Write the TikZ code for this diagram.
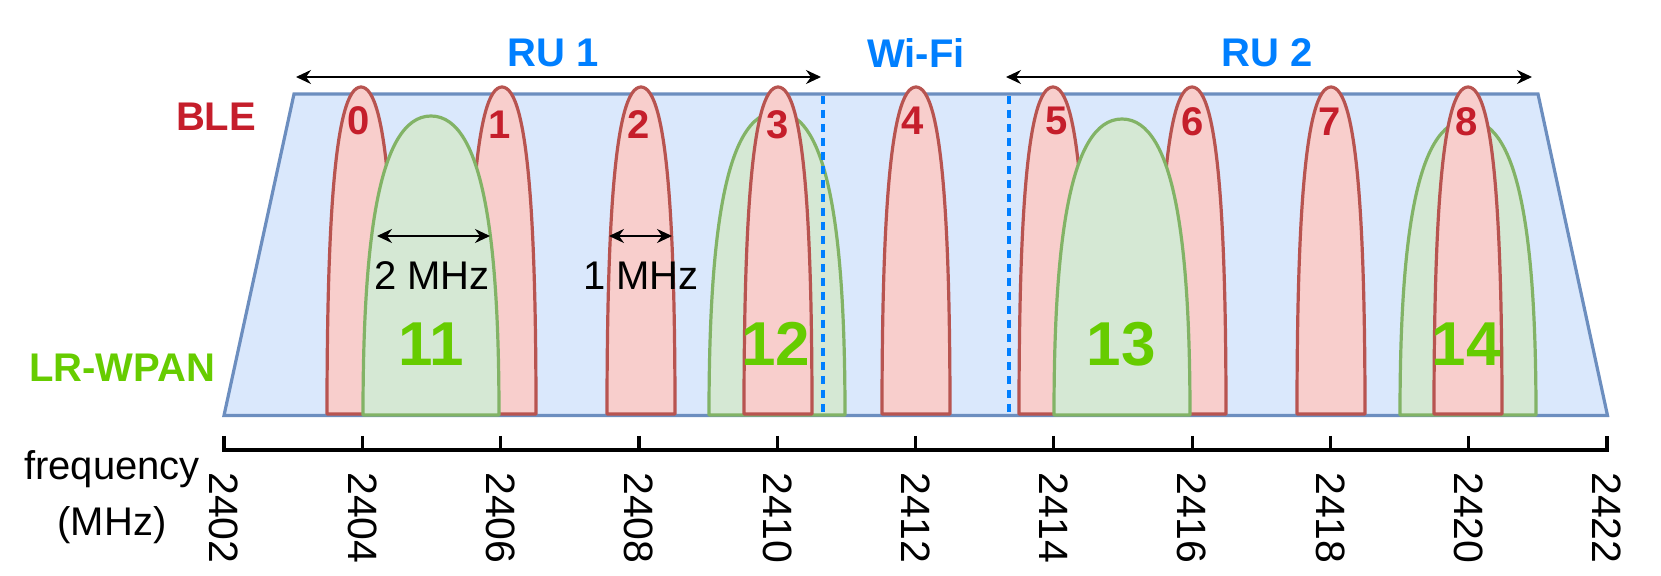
\documentclass[tikz,border=0pt]{standalone}
\usepackage{fontspec}
\setmainfont{Liberation Sans}
\usetikzlibrary{arrows.meta}
\definecolor{bleFill}{HTML}{F8CECC}
\definecolor{bleLine}{HTML}{B85450}
\definecolor{wpFill}{HTML}{D5E8D4}
\definecolor{wpLine}{HTML}{82B366}
\definecolor{bandFill}{HTML}{DAE8FC}
\definecolor{bandLine}{HTML}{6C8EBF}
\definecolor{ruBlue}{HTML}{007FFF}
\definecolor{bleText}{HTML}{C51E2B}
\definecolor{wpText}{HTML}{66CC00}
% cx, half width, top y, bottom y, style
\newcommand\archshape[5]{%
  \draw[#5] ({#1-#2},#4) .. controls ({#1-#2},{#4-0.55*(#4-#3)}) and ({#1-0.8*#2},#3) .. (#1,#3)
    .. controls ({#1+0.8*#2},#3) and ({#1+#2},{#4-0.55*(#4-#3)}) .. ({#1+#2},#4) -- cycle;}
\tikzset{
  ble/.style={fill=bleFill,draw=bleLine,line width=1.6pt,line join=round},
  wpan/.style={fill=wpFill,draw=wpLine,line width=1.6pt,line join=round},
  band/.style={fill=bandFill,draw=bandLine,line width=1.6pt},
  divider/.style={draw=ruBlue,line width=1.7pt,dash pattern=on 4pt off 3pt},
  dimarrow/.style={line width=1pt,{Stealth[length=7.5pt,width=7pt,inset=2.5pt]}-{Stealth[length=7.5pt,width=7pt,inset=2.5pt]}},
  bletxt/.style={text=bleText,font=\fontsize{20}{24}\selectfont\bfseries,inner sep=0pt},
  wptxt/.style={text=wpText,font=\fontsize{31}{36}\selectfont\bfseries,inner sep=0pt},
  rutxt/.style={text=ruBlue,font=\fontsize{20}{24}\selectfont\bfseries,inner sep=0pt},
  plaintxt/.style={text=black,font=\fontsize{20}{24}\selectfont,inner sep=0pt},
  ticktxt/.style={text=black,font=\fontsize{20.5}{24}\selectfont,inner sep=0pt},
  axisline/.style={line width=1.6pt,line join=miter},
}
\begin{document}
\begin{tikzpicture}[x=0.5pt,y=-0.5pt]
\useasboundingbox (0,0) rectangle (1661,576);
% band
\draw[band] (224,415.5) -- (294,94) -- (1538,94) -- (1607.5,415.5) -- cycle;
% channels
\archshape{361}{34}{87}{414}{ble}
\archshape{502}{34}{87}{414}{ble}
\archshape{431}{68}{116}{415}{wpan}
\archshape{641}{34}{87}{414}{ble}
\archshape{777}{68}{112}{415}{wpan}
\archshape{778}{34}{87}{414}{ble}
\archshape{916}{34}{87}{414}{ble}
\archshape{1053}{34}{87}{414}{ble}
\archshape{1192}{34}{87}{414}{ble}
\archshape{1122}{68}{119}{415}{wpan}
\archshape{1331}{34}{87}{414}{ble}
\archshape{1468}{68}{120}{415}{wpan}
\archshape{1468}{34}{87}{414}{ble}
% dividers
\coordinate (d1t) at (823,96); \coordinate (d1b) at (823,414);
\coordinate (d2t) at (1009,96); \coordinate (d2b) at (1009,414);
\draw[divider] (d1t) -- (d1b);
\draw[divider] (d2t) -- (d2b);
% range arrows
\coordinate (ru1l) at (296,77); \coordinate (ru1r) at (821,77);
\coordinate (ru2l) at (1006,77); \coordinate (ru2r) at (1532,77);
\draw[dimarrow] (ru1l) -- (ru1r);
\draw[dimarrow] (ru2l) -- (ru2r);
\coordinate (w2l) at (377,236); \coordinate (w2r) at (490,236);
\coordinate (w1l) at (609,236); \coordinate (w1r) at (672,236);
\draw[dimarrow] (w2l) -- (w2r);
\draw[dimarrow] (w1l) -- (w1r);
% labels
\node[rutxt] (ru1) at (553,53) {RU 1};
\node[rutxt] (wifi) at (916,53) {Wi-Fi};
\node[rutxt] (ru2) at (1267,53) {RU 2};
\node[bletxt] (blelab) at (216,117) {BLE};
\node[text=wpText,font=\fontsize{20}{24}\selectfont\bfseries,inner sep=0pt] (wplab) at (122,368) {LR-WPAN};
\node[plaintxt] (mhz2) at (432,276) {2 MHz};
\node[plaintxt] (mhz1) at (641,276) {1 MHz};
% BLE channel numbers
\node[bletxt] (c0) at (359,121) {0};
\node[bletxt] (c1) at (500,125) {1};
\node[bletxt] (c2) at (639,125) {2};
\node[bletxt] (c3) at (778,125) {3};
\node[bletxt] (c4) at (913,121) {4};
\node[bletxt] (c5) at (1057,121) {5};
\node[bletxt] (c6) at (1193,122) {6};
\node[bletxt] (c7) at (1330,122) {7};
\node[bletxt] (c8) at (1467,122) {8};
% LR-WPAN channel numbers
\node[wptxt] (w11) at (431,344) {11};
\node[wptxt] (w12) at (776,344) {12};
\node[wptxt] (w13) at (1121,344) {13};
\node[wptxt] (w14) at (1466,344) {14};
% axis
\draw[axisline] (224,436) -- (224,450) -- (1607,450) -- (1607,436);
\foreach \k in {1,...,9} {
  \pgfmathsetmacro\xx{224+\k*138.3}
  \draw[axisline] (\xx,436) -- (\xx,450);
}
\foreach \k in {0,...,10} {
  \pgfmathsetmacro\xx{224+\k*138.3}
  \pgfmathtruncatemacro\ff{2402+2*\k}
  \node[ticktxt,rotate=-90,anchor=west] (t\k) at (\xx,472) {\ff};
}
\node[plaintxt,anchor=base] (freq) at (112,480) {frequency};
\node[plaintxt,anchor=base] (unit) at (112,536) {(MHz)};
\end{tikzpicture}
\end{document}
